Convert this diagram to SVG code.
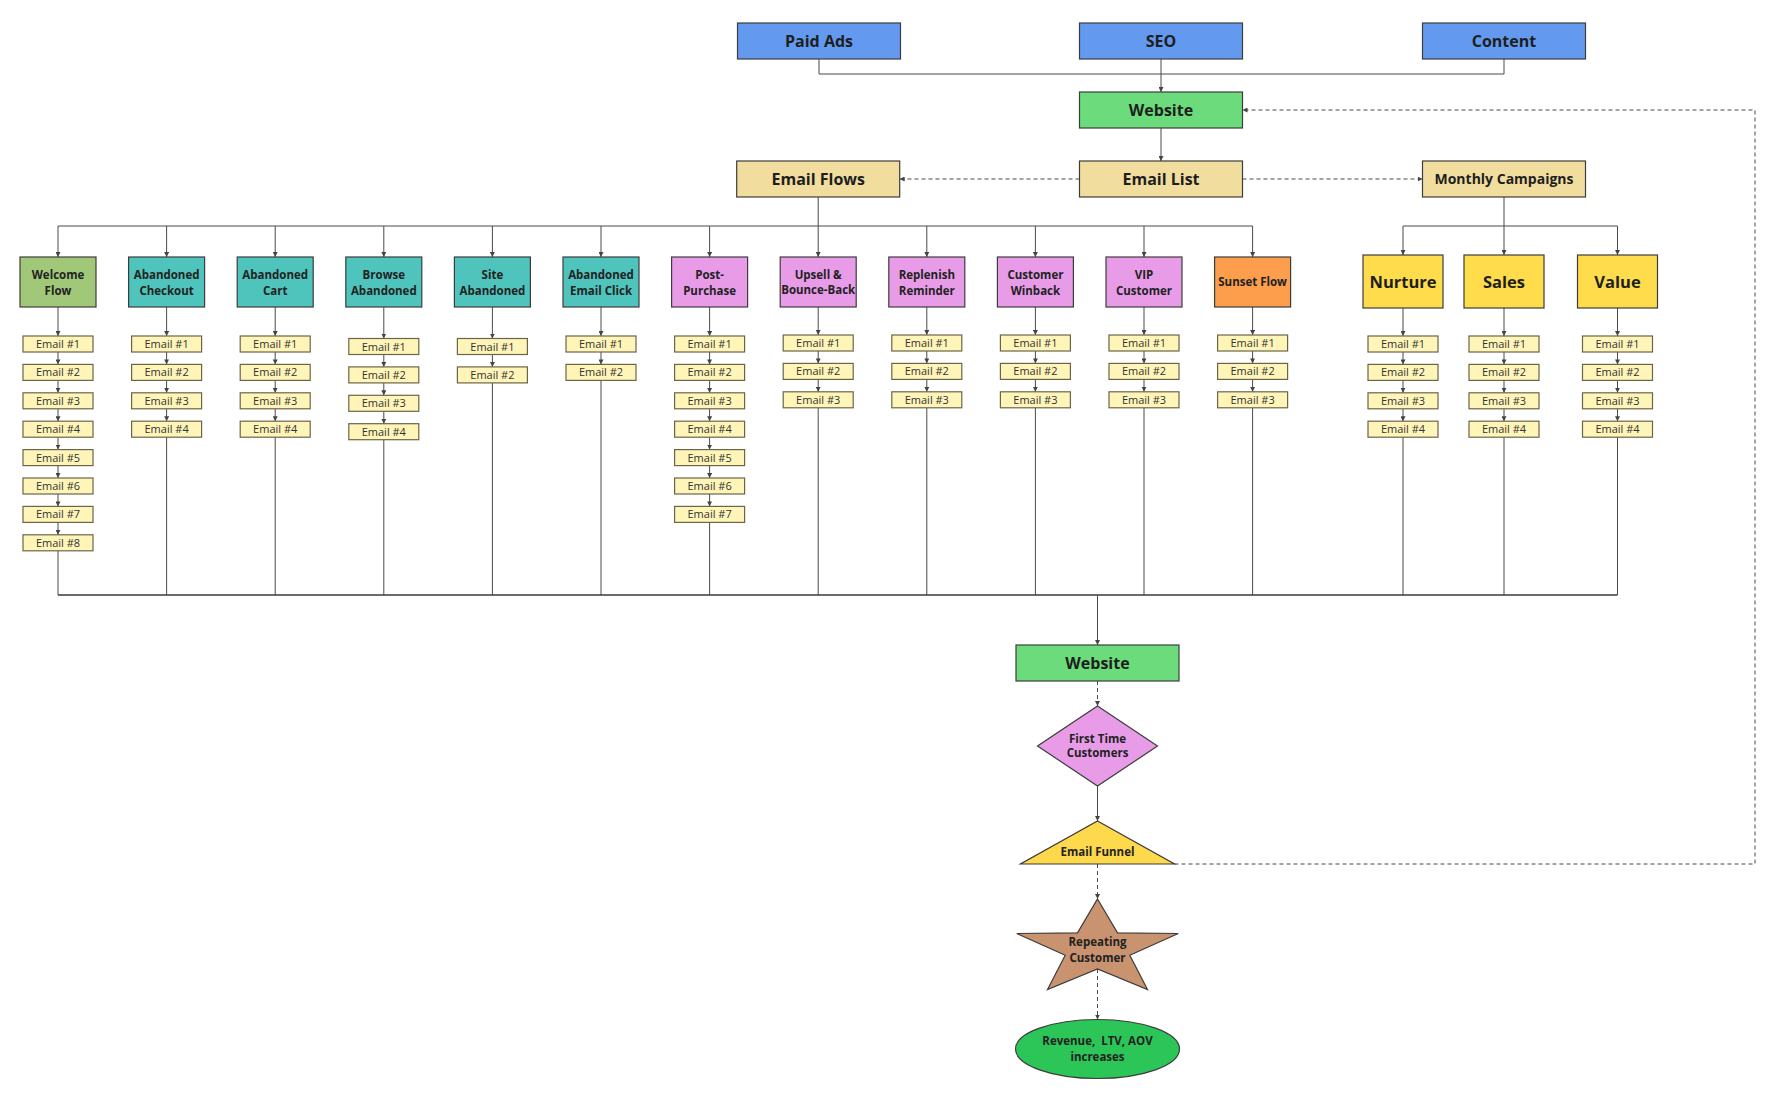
<svg xmlns="http://www.w3.org/2000/svg" width="1780" height="1097" viewBox="0 0 1780 1097">
<style>
.bg{fill:#ffffff}
.ln{stroke:#4a4a4a;stroke-width:1;fill:none}
.bus{stroke:#3a3a3a;stroke-width:1.5;fill:none}
.dash{stroke:#4a4a4a;stroke-width:1;fill:none;stroke-dasharray:4 3}
.box{stroke:#3c3c3c;stroke-width:1.2}
.blue{fill:#639AEF}
.web{fill:#6BDB7B}
.tan{fill:#F1DE9F}
.wel{fill:#A0C878}
.teal{fill:#4EC4BC}
.pink{fill:#E89CE8}
.orange{fill:#FC9E4B}
.yel{fill:#FEDC4C}
.em{fill:#FFF5B8;stroke:#6b6548;stroke-width:1.2}
.t16{font-family:'Open Sans','Liberation Sans',sans-serif;font-weight:700;font-size:16px;fill:#1e1e1e;text-anchor:middle}
.t14{font-family:'Open Sans','Liberation Sans',sans-serif;font-weight:700;font-size:14px;fill:#1e1e1e;text-anchor:middle}
.tf{font-family:'Open Sans','Liberation Sans',sans-serif;font-weight:700;font-size:11.5px;fill:#222;text-anchor:middle}
.tm{font-family:'Open Sans','Liberation Sans',sans-serif;font-weight:700;font-size:16.5px;fill:#1e1e1e;text-anchor:middle}
.te{font-family:'Open Sans','Liberation Sans',sans-serif;font-size:11px;fill:#333;text-anchor:middle}
</style>
<defs>
<marker id="ah" viewBox="0 0 6 6" refX="6" refY="3" markerWidth="5" markerHeight="5" orient="auto" markerUnits="userSpaceOnUse"><path d="M0,0 L6,3 L0,6 z" fill="#444"/></marker>
<rect id="email" x="-35" y="0" width="70" height="16" class="em"/>
</defs>
<rect class="bg" x="0" y="0" width="1780" height="1097"/>

<g id="connectors">
  <path class="ln" d="M819 59 V74 H1504 V59"/>
  <path class="ln" d="M1161 59 V92" marker-end="url(#ah)"/>
  <path class="ln" d="M1161 128 V161" marker-end="url(#ah)"/>
  <path class="dash" d="M1079.5 179 H899.7" marker-end="url(#ah)"/>
  <path class="dash" d="M1242.5 179 H1422.5" marker-end="url(#ah)"/>
  <path class="dash" d="M1174.5 864 H1755 V110 H1242.5" marker-end="url(#ah)"/>
  <path class="ln" d="M818.2 197 V226 M58 226 H1252.6"/>
  <path class="ln" d="M1504 197 V226 M1403 226 H1617.5"/>

  <g transform="translate(58,0)">
    <path class="ln" d="M0 226 V257" marker-end="url(#ah)"/>
    <path class="ln" d="M0 307 V336" marker-end="url(#ah)"/>
    <path class="ln" d="M0 352 V364.4" marker-end="url(#ah)"/>
    <path class="ln" d="M0 380.4 V392.8" marker-end="url(#ah)"/>
    <path class="ln" d="M0 408.8 V421.2" marker-end="url(#ah)"/>
    <path class="ln" d="M0 437.2 V449.6" marker-end="url(#ah)"/>
    <path class="ln" d="M0 465.6 V478" marker-end="url(#ah)"/>
    <path class="ln" d="M0 494 V506.4" marker-end="url(#ah)"/>
    <path class="ln" d="M0 522.4 V534.8" marker-end="url(#ah)"/>
    <path class="ln" d="M0 550.8 V595"/>
  </g>
  <g transform="translate(166.6,0)">
    <path class="ln" d="M0 226 V257" marker-end="url(#ah)"/>
    <path class="ln" d="M0 307 V336" marker-end="url(#ah)"/>
    <path class="ln" d="M0 352 V364.4" marker-end="url(#ah)"/>
    <path class="ln" d="M0 380.4 V392.8" marker-end="url(#ah)"/>
    <path class="ln" d="M0 408.8 V421.2" marker-end="url(#ah)"/>
    <path class="ln" d="M0 437.2 V595"/>
  </g>
  <g transform="translate(275.2,0)">
    <path class="ln" d="M0 226 V257" marker-end="url(#ah)"/>
    <path class="ln" d="M0 307 V336" marker-end="url(#ah)"/>
    <path class="ln" d="M0 352 V364.4" marker-end="url(#ah)"/>
    <path class="ln" d="M0 380.4 V392.8" marker-end="url(#ah)"/>
    <path class="ln" d="M0 408.8 V421.2" marker-end="url(#ah)"/>
    <path class="ln" d="M0 437.2 V595"/>
  </g>
  <g transform="translate(383.8,0)">
    <path class="ln" d="M0 226 V257" marker-end="url(#ah)"/>
    <path class="ln" d="M0 307 V338.5" marker-end="url(#ah)"/>
    <path class="ln" d="M0 354.5 V366.9" marker-end="url(#ah)"/>
    <path class="ln" d="M0 382.9 V395.3" marker-end="url(#ah)"/>
    <path class="ln" d="M0 411.3 V423.7" marker-end="url(#ah)"/>
    <path class="ln" d="M0 439.7 V595"/>
  </g>
  <g transform="translate(492.4,0)">
    <path class="ln" d="M0 226 V257" marker-end="url(#ah)"/>
    <path class="ln" d="M0 307 V338.5" marker-end="url(#ah)"/>
    <path class="ln" d="M0 354.5 V366.9" marker-end="url(#ah)"/>
    <path class="ln" d="M0 382.9 V595"/>
  </g>
  <g transform="translate(601,0)">
    <path class="ln" d="M0 226 V257" marker-end="url(#ah)"/>
    <path class="ln" d="M0 307 V336" marker-end="url(#ah)"/>
    <path class="ln" d="M0 352 V364.4" marker-end="url(#ah)"/>
    <path class="ln" d="M0 380.4 V595"/>
  </g>
  <g transform="translate(709.6,0)">
    <path class="ln" d="M0 226 V257" marker-end="url(#ah)"/>
    <path class="ln" d="M0 307 V336" marker-end="url(#ah)"/>
    <path class="ln" d="M0 352 V364.4" marker-end="url(#ah)"/>
    <path class="ln" d="M0 380.4 V392.8" marker-end="url(#ah)"/>
    <path class="ln" d="M0 408.8 V421.2" marker-end="url(#ah)"/>
    <path class="ln" d="M0 437.2 V449.6" marker-end="url(#ah)"/>
    <path class="ln" d="M0 465.6 V478" marker-end="url(#ah)"/>
    <path class="ln" d="M0 494 V506.4" marker-end="url(#ah)"/>
    <path class="ln" d="M0 522.4 V595"/>
  </g>
  <g transform="translate(818.2,0)">
    <path class="ln" d="M0 226 V257" marker-end="url(#ah)"/>
    <path class="ln" d="M0 307 V335" marker-end="url(#ah)"/>
    <path class="ln" d="M0 351 V363.4" marker-end="url(#ah)"/>
    <path class="ln" d="M0 379.4 V391.8" marker-end="url(#ah)"/>
    <path class="ln" d="M0 407.8 V595"/>
  </g>
  <g transform="translate(926.8,0)">
    <path class="ln" d="M0 226 V257" marker-end="url(#ah)"/>
    <path class="ln" d="M0 307 V335" marker-end="url(#ah)"/>
    <path class="ln" d="M0 351 V363.4" marker-end="url(#ah)"/>
    <path class="ln" d="M0 379.4 V391.8" marker-end="url(#ah)"/>
    <path class="ln" d="M0 407.8 V595"/>
  </g>
  <g transform="translate(1035.4,0)">
    <path class="ln" d="M0 226 V257" marker-end="url(#ah)"/>
    <path class="ln" d="M0 307 V335" marker-end="url(#ah)"/>
    <path class="ln" d="M0 351 V363.4" marker-end="url(#ah)"/>
    <path class="ln" d="M0 379.4 V391.8" marker-end="url(#ah)"/>
    <path class="ln" d="M0 407.8 V595"/>
  </g>
  <g transform="translate(1144,0)">
    <path class="ln" d="M0 226 V257" marker-end="url(#ah)"/>
    <path class="ln" d="M0 307 V335" marker-end="url(#ah)"/>
    <path class="ln" d="M0 351 V363.4" marker-end="url(#ah)"/>
    <path class="ln" d="M0 379.4 V391.8" marker-end="url(#ah)"/>
    <path class="ln" d="M0 407.8 V595"/>
  </g>
  <g transform="translate(1252.6,0)">
    <path class="ln" d="M0 226 V257" marker-end="url(#ah)"/>
    <path class="ln" d="M0 307 V335" marker-end="url(#ah)"/>
    <path class="ln" d="M0 351 V363.4" marker-end="url(#ah)"/>
    <path class="ln" d="M0 379.4 V391.8" marker-end="url(#ah)"/>
    <path class="ln" d="M0 407.8 V595"/>
  </g>
  <g transform="translate(1403,0)">
    <path class="ln" d="M0 226 V255" marker-end="url(#ah)"/>
    <path class="ln" d="M0 308 V336" marker-end="url(#ah)"/>
    <path class="ln" d="M0 352 V364.4" marker-end="url(#ah)"/>
    <path class="ln" d="M0 380.4 V392.8" marker-end="url(#ah)"/>
    <path class="ln" d="M0 408.8 V421.2" marker-end="url(#ah)"/>
    <path class="ln" d="M0 437.2 V595"/>
  </g>
  <g transform="translate(1504,0)">
    <path class="ln" d="M0 226 V255" marker-end="url(#ah)"/>
    <path class="ln" d="M0 308 V336" marker-end="url(#ah)"/>
    <path class="ln" d="M0 352 V364.4" marker-end="url(#ah)"/>
    <path class="ln" d="M0 380.4 V392.8" marker-end="url(#ah)"/>
    <path class="ln" d="M0 408.8 V421.2" marker-end="url(#ah)"/>
    <path class="ln" d="M0 437.2 V595"/>
  </g>
  <g transform="translate(1617.5,0)">
    <path class="ln" d="M0 226 V255" marker-end="url(#ah)"/>
    <path class="ln" d="M0 308 V336" marker-end="url(#ah)"/>
    <path class="ln" d="M0 352 V364.4" marker-end="url(#ah)"/>
    <path class="ln" d="M0 380.4 V392.8" marker-end="url(#ah)"/>
    <path class="ln" d="M0 408.8 V421.2" marker-end="url(#ah)"/>
    <path class="ln" d="M0 437.2 V595"/>
  </g>

  <path class="bus" d="M58 595 H1617.5"/>
  <path class="ln" d="M1097.5 595 V645" marker-end="url(#ah)"/>
  <path class="dash" d="M1097.5 681 V706" marker-end="url(#ah)"/>
  <path class="ln" d="M1097.5 786 V821" marker-end="url(#ah)"/>
  <path class="dash" d="M1097.5 864 V899" marker-end="url(#ah)"/>
  <path class="dash" d="M1097.5 969 V1019.5" marker-end="url(#ah)"/>
</g>

<g id="paid-ads"><rect class="box blue" x="737.5" y="23" width="163" height="36"/><text class="t16" x="819" y="46.5">Paid Ads</text></g>
<g id="seo"><rect class="box blue" x="1079.5" y="23" width="163" height="36"/><text class="t16" x="1161" y="46.5">SEO</text></g>
<g id="content"><rect class="box blue" x="1422.5" y="23" width="163" height="36"/><text class="t16" x="1504" y="46.5">Content</text></g>
<g id="website-top"><rect class="box web" x="1079.5" y="92" width="163" height="36"/><text class="t16" x="1161" y="115.5">Website</text></g>
<g id="email-flows"><rect class="box tan" x="736.7" y="161" width="163" height="36"/><text class="t16" x="818.2" y="184.5">Email Flows</text></g>
<g id="email-list"><rect class="box tan" x="1079.5" y="161" width="163" height="36"/><text class="t16" x="1161" y="184.5">Email List</text></g>
<g id="monthly-campaigns"><rect class="box tan" x="1422.5" y="161" width="163" height="36"/><text class="t14" x="1504" y="184">Monthly Campaigns</text></g>

<g id="welcome-flow" transform="translate(58,0)"><rect class="box wel" x="-38" y="257" width="76" height="50"/><text class="tf" x="0" y="279">Welcome</text><text class="tf" x="0" y="295">Flow</text></g>
<g id="abandoned-checkout" transform="translate(166.6,0)"><rect class="box teal" x="-38" y="257" width="76" height="50"/><text class="tf" x="0" y="279">Abandoned</text><text class="tf" x="0" y="295">Checkout</text></g>
<g id="abandoned-cart" transform="translate(275.2,0)"><rect class="box teal" x="-38" y="257" width="76" height="50"/><text class="tf" x="0" y="279">Abandoned</text><text class="tf" x="0" y="295">Cart</text></g>
<g id="browse-abandoned" transform="translate(383.8,0)"><rect class="box teal" x="-38" y="257" width="76" height="50"/><text class="tf" x="0" y="279">Browse</text><text class="tf" x="0" y="295">Abandoned</text></g>
<g id="site-abandoned" transform="translate(492.4,0)"><rect class="box teal" x="-38" y="257" width="76" height="50"/><text class="tf" x="0" y="279">Site</text><text class="tf" x="0" y="295">Abandoned</text></g>
<g id="abandoned-email-click" transform="translate(601,0)"><rect class="box teal" x="-38" y="257" width="76" height="50"/><text class="tf" x="0" y="279">Abandoned</text><text class="tf" x="0" y="295">Email Click</text></g>
<g id="post-purchase" transform="translate(709.6,0)"><rect class="box pink" x="-38" y="257" width="76" height="50"/><text class="tf" x="0" y="279">Post-</text><text class="tf" x="0" y="295">Purchase</text></g>
<g id="upsell" transform="translate(818.2,0)"><rect class="box pink" x="-38" y="257" width="76" height="50"/><text class="tf" x="0" y="279">Upsell &amp;</text><text class="tf" x="0" y="294">Bounce-Back</text></g>
<g id="replenish" transform="translate(926.8,0)"><rect class="box pink" x="-38" y="257" width="76" height="50"/><text class="tf" x="0" y="279">Replenish</text><text class="tf" x="0" y="295">Reminder</text></g>
<g id="winback" transform="translate(1035.4,0)"><rect class="box pink" x="-38" y="257" width="76" height="50"/><text class="tf" x="0" y="279">Customer</text><text class="tf" x="0" y="295">Winback</text></g>
<g id="vip" transform="translate(1144,0)"><rect class="box pink" x="-38" y="257" width="76" height="50"/><text class="tf" x="0" y="279">VIP</text><text class="tf" x="0" y="295">Customer</text></g>
<g id="sunset" transform="translate(1252.6,0)"><rect class="box orange" x="-38" y="257" width="76" height="50"/><text class="tf" x="0" y="286">Sunset Flow</text></g>

<g id="nurture" transform="translate(1403,0)"><rect class="box yel" x="-40" y="255" width="80" height="53"/><text class="tm" x="0" y="287.5">Nurture</text></g>
<g id="sales" transform="translate(1504,0)"><rect class="box yel" x="-40" y="255" width="80" height="53"/><text class="tm" x="0" y="287.5">Sales</text></g>
<g id="value" transform="translate(1617.5,0)"><rect class="box yel" x="-40" y="255" width="80" height="53"/><text class="tm" x="0" y="287.5">Value</text></g>

<g id="welcome-emails" transform="translate(58,0)">
<use href="#email" y="336"/><text class="te" y="348">Email #1</text>
<use href="#email" y="364.4"/><text class="te" y="376.4">Email #2</text>
<use href="#email" y="392.8"/><text class="te" y="404.8">Email #3</text>
<use href="#email" y="421.2"/><text class="te" y="433.2">Email #4</text>
<use href="#email" y="449.6"/><text class="te" y="461.6">Email #5</text>
<use href="#email" y="478"/><text class="te" y="490">Email #6</text>
<use href="#email" y="506.4"/><text class="te" y="518.4">Email #7</text>
<use href="#email" y="534.8"/><text class="te" y="546.8">Email #8</text>
</g>
<g id="checkout-emails" transform="translate(166.6,0)">
<use href="#email" y="336"/><text class="te" y="348">Email #1</text>
<use href="#email" y="364.4"/><text class="te" y="376.4">Email #2</text>
<use href="#email" y="392.8"/><text class="te" y="404.8">Email #3</text>
<use href="#email" y="421.2"/><text class="te" y="433.2">Email #4</text>
</g>
<g id="cart-emails" transform="translate(275.2,0)">
<use href="#email" y="336"/><text class="te" y="348">Email #1</text>
<use href="#email" y="364.4"/><text class="te" y="376.4">Email #2</text>
<use href="#email" y="392.8"/><text class="te" y="404.8">Email #3</text>
<use href="#email" y="421.2"/><text class="te" y="433.2">Email #4</text>
</g>
<g id="browse-emails" transform="translate(383.8,0)">
<use href="#email" y="338.5"/><text class="te" y="350.5">Email #1</text>
<use href="#email" y="366.9"/><text class="te" y="378.9">Email #2</text>
<use href="#email" y="395.3"/><text class="te" y="407.3">Email #3</text>
<use href="#email" y="423.7"/><text class="te" y="435.7">Email #4</text>
</g>
<g id="site-emails" transform="translate(492.4,0)">
<use href="#email" y="338.5"/><text class="te" y="350.5">Email #1</text>
<use href="#email" y="366.9"/><text class="te" y="378.9">Email #2</text>
</g>
<g id="click-emails" transform="translate(601,0)">
<use href="#email" y="336"/><text class="te" y="348">Email #1</text>
<use href="#email" y="364.4"/><text class="te" y="376.4">Email #2</text>
</g>
<g id="post-emails" transform="translate(709.6,0)">
<use href="#email" y="336"/><text class="te" y="348">Email #1</text>
<use href="#email" y="364.4"/><text class="te" y="376.4">Email #2</text>
<use href="#email" y="392.8"/><text class="te" y="404.8">Email #3</text>
<use href="#email" y="421.2"/><text class="te" y="433.2">Email #4</text>
<use href="#email" y="449.6"/><text class="te" y="461.6">Email #5</text>
<use href="#email" y="478"/><text class="te" y="490">Email #6</text>
<use href="#email" y="506.4"/><text class="te" y="518.4">Email #7</text>
</g>
<g id="upsell-emails" transform="translate(818.2,0)">
<use href="#email" y="335"/><text class="te" y="347">Email #1</text>
<use href="#email" y="363.4"/><text class="te" y="375.4">Email #2</text>
<use href="#email" y="391.8"/><text class="te" y="403.8">Email #3</text>
</g>
<g id="replenish-emails" transform="translate(926.8,0)">
<use href="#email" y="335"/><text class="te" y="347">Email #1</text>
<use href="#email" y="363.4"/><text class="te" y="375.4">Email #2</text>
<use href="#email" y="391.8"/><text class="te" y="403.8">Email #3</text>
</g>
<g id="winback-emails" transform="translate(1035.4,0)">
<use href="#email" y="335"/><text class="te" y="347">Email #1</text>
<use href="#email" y="363.4"/><text class="te" y="375.4">Email #2</text>
<use href="#email" y="391.8"/><text class="te" y="403.8">Email #3</text>
</g>
<g id="vip-emails" transform="translate(1144,0)">
<use href="#email" y="335"/><text class="te" y="347">Email #1</text>
<use href="#email" y="363.4"/><text class="te" y="375.4">Email #2</text>
<use href="#email" y="391.8"/><text class="te" y="403.8">Email #3</text>
</g>
<g id="sunset-emails" transform="translate(1252.6,0)">
<use href="#email" y="335"/><text class="te" y="347">Email #1</text>
<use href="#email" y="363.4"/><text class="te" y="375.4">Email #2</text>
<use href="#email" y="391.8"/><text class="te" y="403.8">Email #3</text>
</g>
<g id="nurture-emails" transform="translate(1403,0)">
<use href="#email" y="336"/><text class="te" y="348">Email #1</text>
<use href="#email" y="364.4"/><text class="te" y="376.4">Email #2</text>
<use href="#email" y="392.8"/><text class="te" y="404.8">Email #3</text>
<use href="#email" y="421.2"/><text class="te" y="433.2">Email #4</text>
</g>
<g id="sales-emails" transform="translate(1504,0)">
<use href="#email" y="336"/><text class="te" y="348">Email #1</text>
<use href="#email" y="364.4"/><text class="te" y="376.4">Email #2</text>
<use href="#email" y="392.8"/><text class="te" y="404.8">Email #3</text>
<use href="#email" y="421.2"/><text class="te" y="433.2">Email #4</text>
</g>
<g id="value-emails" transform="translate(1617.5,0)">
<use href="#email" y="336"/><text class="te" y="348">Email #1</text>
<use href="#email" y="364.4"/><text class="te" y="376.4">Email #2</text>
<use href="#email" y="392.8"/><text class="te" y="404.8">Email #3</text>
<use href="#email" y="421.2"/><text class="te" y="433.2">Email #4</text>
</g>

<g id="website-bottom"><rect class="box web" x="1016" y="645" width="163" height="36"/><text class="t16" x="1097.5" y="668.5">Website</text></g>
<g id="first-time-customers"><polygon class="box pink" points="1097.5,706 1157.5,746 1097.5,786 1037.5,746"/><text class="tf" x="1097.5" y="743">First Time</text><text class="tf" x="1097.5" y="757">Customers</text></g>
<g id="email-funnel"><polygon class="box" fill="#FDD94B" points="1097.5,821 1174.5,864 1020.5,864"/><text class="tf" x="1097.5" y="856">Email Funnel</text></g>
<g id="repeating-customer" transform="translate(-2.5,0)"><polygon class="box" fill="#C99370" points="1100,899 1120,932.8 1180.8,933.5 1132.3,955.2 1150,989.5 1100,969 1050,989.5 1067.7,955.2 1019.2,933.5 1080,932.8"/><text class="tf" x="1100" y="946">Repeating</text><text class="tf" x="1100" y="962">Customer</text></g>
<g id="revenue"><ellipse class="box" fill="#2CC558" cx="1097.5" cy="1049" rx="82" ry="29.5"/><text class="tf" x="1097.5" y="1045" xml:space="preserve">Revenue,  LTV, AOV</text><text class="tf" x="1097.5" y="1061">increases</text></g>
</svg>
